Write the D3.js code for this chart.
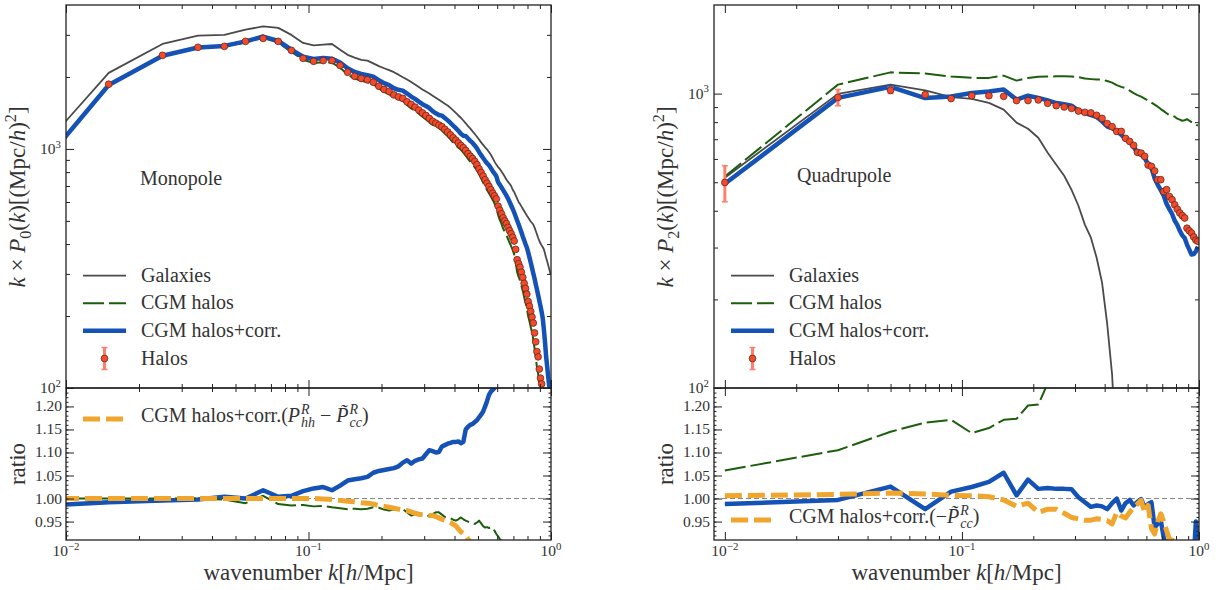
<!DOCTYPE html>
<html>
<head>
<meta charset="utf-8">
<script src="https://cdn.jsdelivr.net/npm/d3@7"></script>
<style>
body { margin: 0; background: #fff; }
svg text, svg tspan { font-family: "Liberation Serif", "DejaVu Serif", serif !important; fill: #333; }
</style>
</head>
<body>
<script>
// bin centres of the two measurements
const kLeft = d3.range(100).map((i) => 0.005 + 0.01 * i);
const kRight = d3.range(50).map((i) => 0.01 + 0.02 * i);

// ---- monopole, top panel
const galLeft = [593,2080,2748,2979,2999,3154,3254,3210,2999,2775,
	2712,2730,2748,2600,2476,2410,2360,2342,2280,2220,
	2175,2135,2094,2045,1995,1951,1905,1860,1815,1774,
	1740,1705,1670,1636,1605,1575,1545,1520,1485,1450,
	1415,1380,1350,1315,1280,1245,1215,1185,1155,1125,
	1095,1065,1040,1015,995,970,945,915,885,860,
	840,825,805,785,765,745,728,715,700,675,
	660,640,620,600,588,575,562,550,538,527,
	517,507,497,490,483,470,455,440,425,412,
	402,395,388,380,365,350,338,325,312,300];
const cgmLeft = [490,1866,2464,2661,2681,2790,2917,2784,2546,2360,
	2287,2305,2298,2186,2045,1970,1926,1902,1865,1793,
	1731,1693,1643,1613,1590,1527,1478,1445,1403,1364,
	1328,1292,1261,1244,1221,1195,1160,1129,1096,1063,
	1036,1012,992,966,938,909,883,862,838,815,
	786,754,724,696,674,652,632,612,591,570,
	530,505,486,464,450,436,420,405,392,378,
	362,335,305,292,282,268,255,240,228,215,
	200,190,180,170,160,147,135,122,115,103,
	94,88];
const corrLeft = [490,1851,2454,2656,2697,2818,2952,2829,2601,2431,
	2377,2401,2384,2296,2175,2099,2058,2036,2007,1940,
	1884,1849,1794,1767,1754,1705,1656,1619,1578,1539,
	1512,1483,1439,1410,1386,1378,1348,1317,1284,1251,
	1222,1191,1158,1136,1133,1106,1081,1059,1034,1006,
	971,942,916,892,871,854,832,807,789,769,
	727,709,690,672,655,638,620,600,580,562,
	542,522,502,484,466,448,430,415,400,387,
	370,352,335,318,302,288,272,258,245,232,
	220,208,195,175,155,135,122,110,100,92];
// halos start at the second bin (k = 0.015)
const haloLeft = [1866,2464,2661,2686,2818,2900,2818,2585,2393,
	2326,2342,2342,2233,2093,2014,1971,1945,1901,1830,
	1774,1738,1683,1651,1627,1574,1535,1496,1454,1416,
	1380,1342,1305,1282,1259,1238,1208,1177,1145,1114,
	1088,1060,1034,1012,985,957,932,911,887,860,
	826,797,770,743,719,697,675,653,636,618,
	577,554,535,515,500,487,470,455,442,427,
	412,380,344,331,320,305,290,274,261,247,
	230,220,209,198,187,170,156,142,135,120,
	110,104,97];
const haloErrLeft = [30,25,20,16,14,12];

// ---- monopole, ratio panel
const rCorrLeft = [0.978,0.992,0.996,0.998,1.004,1.000,1.018,1.004,1.006,1.016,
	1.022,1.025,1.018,1.028,1.039,1.042,1.044,1.047,1.056,1.060,
	1.062,1.064,1.066,1.070,1.078,1.083,1.076,1.082,1.085,1.087,
	1.096,1.105,1.103,1.100,1.101,1.113,1.116,1.119,1.121,1.123,
	1.123,1.124,1.120,1.123,1.150,1.156,1.160,1.162,1.166,1.170,
	1.176,1.182,1.189,1.200,1.212,1.225,1.232,1.236,1.240,1.245,
	1.26,1.28,1.31,1.33];
const rCgmLeft = [1.000,1.000,1.000,1.000,0.998,0.990,1.006,0.988,0.985,0.986,
	0.983,0.984,0.981,0.979,0.977,0.978,0.977,0.978,0.981,0.980,
	0.976,0.974,0.976,0.977,0.977,0.970,0.963,0.966,0.965,0.963,
	0.962,0.963,0.966,0.970,0.970,0.965,0.960,0.959,0.957,0.954,
	0.952,0.955,0.959,0.955,0.952,0.950,0.948,0.946,0.945,0.948,
	0.952,0.946,0.940,0.937,0.938,0.936,0.937,0.937,0.930,0.923,
	0.918,0.912,0.908,0.900];
const rOrangeLeft = [1.000,1.000,1.000,1.000,1.000,1.000,1.000,1.000,1.000,1.000,
	1.000,0.999,0.998,0.996,0.994,0.993,0.991,0.990,0.988,0.985,
	0.983,0.981,0.979,0.977,0.975,0.974,0.971,0.968,0.966,0.965,
	0.964,0.963,0.963,0.961,0.958,0.955,0.953,0.951,0.948,0.944,
	0.941,0.934,0.928,0.924,0.920,0.912,0.905,0.900];

// ---- quadrupole, top panel
const galRight = [518,998,1073,1026,973,959,930,882,797,760,
	708,630,573,526,471,416,359,324,277,228,
	165,111,55];
const cgmRight = [523,1073,1181,1170,1143,1131,1131,1151,1107,1129,
	1140,1143,1145,1145,1143,1138,1125,1120,1116,1116,
	1103,1090,1069,1054,1044,1024,1004,988,977,962,
	947,932,917,903,886,872,858,845,842,835,
	822,816,809,812,819,809,800,791,784,778];
const corrRight = [494,967,1054,966,978,1005,1016,1032,954,984,
	967,949,929,920,910,876,860,845,833,805,
	773,764,744,725,700,688,660,628,620,605,
	575,560,515,490,470,450,422,405,390,370,
	358,342,330,323,307,295,284,285,291,302];
const haloRight = [499,971,1026,992,962,984,984,979,947,947,
	952,927,910,901,891,873,864,860,844,824,
	791,772,744,744,705,688,667,632,628,612,
	572,566,546,510,510,465,472,447,436,419,
	405,393,385,378,349,342,336,326,318,315];
const haloErrRight = [70,62,25,14,10,8,7,6];

// ---- quadrupole, ratio panel
const rCorrRight = [0.988,0.997,1.026,0.977,1.015,1.025,1.036,1.056,1.007,1.041,
	1.021,1.023,1.021,1.021,1.020,1.003,0.992,0.982,0.985,0.983,
	0.977,0.990,1.000,0.974,0.990,0.997,0.985,0.993,0.999,0.981,
	0.988,0.992,0.937,0.945,0.952,0.915,0.895,0.87,0.86,0.87,
	0.87,0.88,0.88,0.89,0.89,0.88,0.87,0.87,0.95,0.90];
const rCgmRight = [1.061,1.105,1.145,1.165,1.171,1.142,1.153,1.171,1.173,1.202,
	1.204,1.25,1.30,1.34];
const rOrangeRight = [1.006,1.009,1.012,1.010,1.007,1.006,1.004,0.997,0.983,0.990,
	0.970,0.977,0.977,0.968,0.959,0.956,0.953,0.953,0.956,0.955,
	0.952,0.945,0.970,0.962,0.958,0.970,0.981,0.988,0.996,0.970,
	0.985,0.935,0.923,0.950,0.967,0.950,0.930,0.912,0.910,0.905,
	0.900];

const legendLabels = ["Galaxies", "CGM halos", "CGM halos+corr.", "Halos"];
const majorK = [0.01, 0.1, 1];
const minorK = [0.02,0.03,0.04,0.05,0.06,0.07,0.08,0.09,0.2,0.3,0.4,0.5,0.6,0.7,0.8,0.9];
const ratioMajor = [0.95, 1.0, 1.05, 1.1, 1.15, 1.2];
const ratioLabels = ["0.95", "1.00", "1.05", "1.10", "1.15", "1.20"];
const ratioDomain = [0.91, 1.24];

const W = 1216, H = 590;
const yTop = 5, yMid = 388, yBot = 540;
const FONT = '"Liberation Serif", "DejaVu Serif", serif';
const col = {
	gal: "#4a4a4a",
	cgm: "#1b5e0c",
	corr: "#1552b6",
	halo: "#f24a2b",
	err: "#ff7e6c",
	orange: "#f0a52c",
};

const svg = d3.select("body").append("svg").attr("width", W).attr("height", H)
	.attr("font-family", FONT);
svg.append("rect").attr("width", W).attr("height", H).attr("fill", "#fff");
const defs = svg.append("defs");

// text with italic / sub / superscript pieces, laid out with tspans
function richText(parent, x, y, pieces, size, anchor) {
	const t = parent
		.append("text")
		.attr("x", x)
		.attr("y", y)
		.attr("font-family", FONT)
		.attr("font-size", size)
		.attr("text-anchor", anchor || "start");
	let shift = 0, pending = 0, lastW = 0;
	pieces.forEach((p) => {
		const small = p.sup || p.sub;
		const target = p.sup ? -size * 0.4 : p.sub ? size * 0.24 : 0;
		const ts = t
			.append("tspan")
			.text(p.t)
			.attr("font-size", small ? size * 0.7 : size)
			.attr("dy", target - shift);
		if (p.it) ts.attr("font-style", "italic");
		let dx = pending + (p.dx || 0);
		pending = 0;
		if (p.under) dx -= lastW;
		if (dx) ts.attr("dx", dx);
		const w = ts.node().getComputedTextLength();
		if (p.under && lastW > w) pending = lastW - w;
		lastW = w;
		shift = target;
	});
	return t;
}

function ticks(g, axisFn, scale, values, size, transform) {
	g.append("g")
		.attr("transform", transform)
		.call(axisFn(scale).tickValues(values).tickSize(-size).tickSizeOuter(0).tickFormat(""))
		.call((a) => a.select(".domain").remove())
		.selectAll("line")
		.attr("stroke", "#222")
		.attr("stroke-width", 1);
}

function frameTicks(x, y, xMinor, yMajor, yMinor, y0, y1, yMinorLen) {
	const g = svg.append("g");
	const x0 = x.range()[0], x1 = x.range()[1];
	ticks(g, d3.axisBottom, x, majorK, 8, `translate(0,${y1})`);
	ticks(g, d3.axisBottom, x, xMinor, 4, `translate(0,${y1})`);
	ticks(g, d3.axisTop, x, majorK, 8, `translate(0,${y0})`);
	ticks(g, d3.axisTop, x, xMinor, 4, `translate(0,${y0})`);
	ticks(g, d3.axisLeft, y, yMajor, 8, `translate(${x0},0)`);
	ticks(g, d3.axisLeft, y, yMinor, yMinorLen, `translate(${x0},0)`);
	ticks(g, d3.axisRight, y, yMajor, 8, `translate(${x1},0)`);
	ticks(g, d3.axisRight, y, yMinor, yMinorLen, `translate(${x1},0)`);
	g.append("rect")
		.attr("x", x0)
		.attr("y", y0)
		.attr("width", x1 - x0)
		.attr("height", y1 - y0)
		.attr("fill", "none")
		.attr("stroke", "#222")
		.attr("stroke-width", 1.3);
}

function addClip(id, x0, x1, y0, y1) {
	defs.append("clipPath").attr("id", id).append("rect")
		.attr("x", x0).attr("y", y0).attr("width", x1 - x0).attr("height", y1 - y0);
	return svg.append("g").attr("clip-path", `url(#${id})`);
}

function drawLine(g, x, y, ks, vals, stroke, width, dash) {
	const line = d3.line().x((d) => x(d[0])).y((d) => y(d[1]));
	const path = g.append("path")
		.datum(d3.zip(ks, vals))
		.attr("d", line)
		.attr("fill", "none")
		.attr("stroke", stroke)
		.attr("stroke-width", width)
		.attr("stroke-linejoin", "round");
	if (dash) path.attr("stroke-dasharray", dash);
	return path;
}

function drawHalos(g, x, y, ks, vals, errs) {
	errs.forEach((e, i) => {
		const cx = x(ks[i]);
		const a = y(vals[i] - e), b = y(vals[i] + e);
		g.append("line").attr("x1", cx).attr("x2", cx).attr("y1", a).attr("y2", b)
			.attr("stroke", col.err).attr("stroke-width", 3);
		[a, b].forEach((yy) =>
			g.append("line").attr("x1", cx - 3).attr("x2", cx + 3).attr("y1", yy).attr("y2", yy)
				.attr("stroke", col.err).attr("stroke-width", 1.5));
	});
	g.selectAll(null)
		.data(d3.zip(ks, vals))
		.enter()
		.append("circle")
		.attr("cx", (d) => x(d[0]))
		.attr("cy", (d) => y(d[1]))
		.attr("r", 3.4)
		.attr("fill", col.halo)
		.attr("stroke", "#5a2216")
		.attr("stroke-width", 0.7);
}

function drawLegendLine(g, x0, x1, y, stroke, width, dash) {
	const l = g.append("line").attr("x1", x0).attr("x2", x1).attr("y1", y).attr("y2", y)
		.attr("stroke", stroke).attr("stroke-width", width);
	if (dash) l.attr("stroke-dasharray", dash);
}

function drawPanel(p) {
	const x = d3.scaleLog().domain(p.kDomain).range([p.x0, p.x1]);
	const yT = d3.scaleLog().domain(p.topDomain).range([yMid, yTop]);
	const yR = d3.scaleLinear().domain(ratioDomain).range([yBot, yMid]);

	// top panel
	const gT = addClip("clipT" + p.id, p.x0, p.x1, yTop, yMid);
	drawLine(gT, x, yT, p.k, p.gal, col.gal, 1.8);
	drawLine(gT, x, yT, p.k, p.cgm, col.cgm, 2, "21,5");
	drawLine(gT, x, yT, p.k, p.corr, col.corr, 4.5);
	drawHalos(gT, x, yT, p.haloK, p.halo, p.haloErr);

	// ratio panel
	const gR = addClip("clipR" + p.id, p.x0, p.x1, yMid, yBot);
	gR.append("line")
		.attr("x1", p.x0).attr("x2", p.x1).attr("y1", yR(1)).attr("y2", yR(1))
		.attr("stroke", "#777").attr("stroke-width", 0.9).attr("stroke-dasharray", "5,3");
	drawLine(gR, x, yR, p.k, p.rCorr, col.corr, 4.5);
	drawLine(gR, x, yR, p.k, p.rCgm, col.cgm, 2, "21,5");
	drawLine(gR, x, yR, p.k, p.rOrange, col.orange, 5, "17,6");

	frameTicks(x, yT, minorK, [100, 1000], p.topMinor, yTop, yMid, 4);
	frameTicks(x, yR, minorK, ratioMajor, d3.range(0.92, 1.245, 0.01), yMid, yBot, 2.5);

	// tick labels
	const lab = svg.append("g");
	[[1000, "3"], [100, "2"]].forEach(([v, e]) =>
		richText(lab, p.x0 - 5, yT(v) + 5, [{ t: "10" }, { t: e, sup: 1 }], 15.5, "end"));
	ratioMajor.forEach((v, i) =>
		lab.append("text").attr("x", p.x0 - 4).attr("y", yR(v) + 5)
			.attr("font-family", FONT)
			.attr("font-size", 15.5).attr("text-anchor", "end").text(ratioLabels[i]));
	[[0.01, "\u22122"], [0.1, "\u22121"], [1, "0"]].forEach(([v, e]) =>
		richText(lab, x(v), yBot + 16, [{ t: "10" }, { t: e, sup: 1 }], 15.5, "middle"));

	// axis titles
	const cx = (p.x0 + p.x1) / 2;
	richText(lab, cx, 580, [
		{ t: "wavenumber " }, { t: "k", it: 1 }, { t: "[" }, { t: "h", it: 1 }, { t: "/Mpc]" },
	], 23, "middle");
	const yl = lab.append("g").attr("transform", `translate(${p.ylabX},197) rotate(-90)`);
	richText(yl, 0, 0, [
		{ t: "k", it: 1 }, { t: " \u00d7 " }, { t: "P", it: 1 }, { t: p.ell, sub: 1 },
		{ t: "(" }, { t: "k", it: 1 }, { t: ")[(Mpc/" }, { t: "h", it: 1 }, { t: ")" },
		{ t: "2", sup: 1 }, { t: "]" },
	], 23, "middle");
	lab.append("text")
		.attr("transform", `translate(${p.ylabX},464) rotate(-90)`)
		.attr("font-family", FONT)
		.attr("font-size", 23).attr("text-anchor", "middle").text("ratio");

	lab.append("text").attr("x", p.title[1]).attr("y", p.title[2])
		.attr("font-family", FONT)
		.attr("font-size", 20).text(p.title[0]);

	// legend, top panel
	const lg = svg.append("g");
	const lx0 = p.legX, lx1 = p.legX + 43, tx = p.legX + 58;
	const rows = [275.7, 303.2, 330.8, 358.5];
	drawLegendLine(lg, lx0, lx1, rows[0], col.gal, 1.8);
	drawLegendLine(lg, lx0, lx1, rows[1], col.cgm, 2, "21,5");
	drawLegendLine(lg, lx0, lx1, rows[2], col.corr, 4.5);
	const mx = (lx0 + lx1) / 2;
	lg.append("line").attr("x1", mx).attr("x2", mx).attr("y1", rows[3] - 11).attr("y2", rows[3] + 11)
		.attr("stroke", col.err).attr("stroke-width", 3);
	[rows[3] - 11, rows[3] + 11].forEach((yy) =>
		lg.append("line").attr("x1", mx - 3).attr("x2", mx + 3).attr("y1", yy).attr("y2", yy)
			.attr("stroke", col.err).attr("stroke-width", 1.5));
	lg.append("circle").attr("cx", mx).attr("cy", rows[3]).attr("r", 3.4)
		.attr("fill", col.halo).attr("stroke", "#5a2216").attr("stroke-width", 0.7);
	legendLabels.forEach((s, i) =>
		lg.append("text").attr("x", tx).attr("y", rows[i] + 6)
			.attr("font-family", FONT).attr("font-size", 20).text(s));

	// legend, ratio panel
	drawLegendLine(lg, lx0, lx1, p.rLegY, col.orange, 5, "17,6");
	richText(lg, tx, p.rLegY + 3, p.rLegText, 20);
}

const Pt = "P\u0303";

drawPanel({
	id: "L",
	x0: 66, x1: 551,
	kDomain: [0.01, 1],
	topDomain: [100, 4000],
	topMinor: [200, 300, 400, 500, 600, 700, 800, 900, 2000, 3000],
	k: kLeft,
	gal: galLeft, cgm: cgmLeft, corr: corrLeft,
	haloK: kLeft.slice(1), halo: haloLeft, haloErr: haloErrLeft,
	rCorr: rCorrLeft, rCgm: rCgmLeft, rOrange: rOrangeLeft,
	ell: "0",
	ylabX: 25,
	title: ["Monopole", 140, 185],
	legX: 83,
	rLegY: 419,
	rLegText: [
		{ t: "CGM halos+corr.(" }, { t: "P", it: 1 }, { t: "R", it: 1, sup: 1, dx: 1 },
		{ t: "hh", it: 1, sub: 1, under: 1 }, { t: " \u2212 " }, { t: Pt, it: 1 },
		{ t: "R", it: 1, sup: 1, dx: 1 }, { t: "cc", it: 1, sub: 1, under: 1 }, { t: ")" },
	],
});

drawPanel({
	id: "R",
	x0: 714, x1: 1199,
	kDomain: [0.009, 1],
	topDomain: [100, 2000],
	topMinor: [200, 300, 400, 500, 600, 700, 800, 900],
	k: kRight,
	gal: galRight, cgm: cgmRight, corr: corrRight,
	haloK: kRight, halo: haloRight, haloErr: haloErrRight,
	rCorr: rCorrRight, rCgm: rCgmRight, rOrange: rOrangeRight,
	ell: "2",
	ylabX: 673,
	title: ["Quadrupole", 797, 182],
	legX: 731,
	rLegY: 520,
	rLegText: [
		{ t: "CGM halos+corr.(\u2212" }, { t: Pt, it: 1 }, { t: "R", it: 1, sup: 1, dx: 1 },
		{ t: "cc", it: 1, sub: 1, under: 1 }, { t: ")" },
	],
});
</script>
</body>
</html>
